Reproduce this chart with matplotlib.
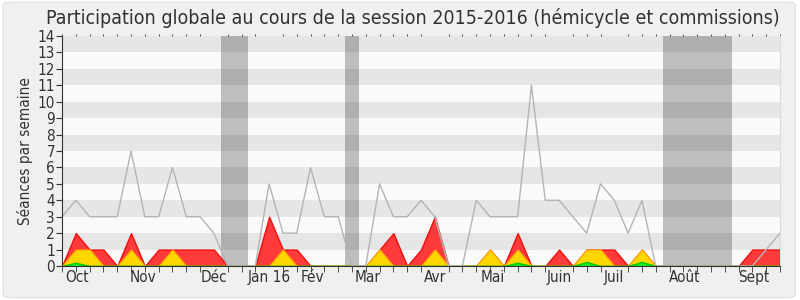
import matplotlib
matplotlib.use('Agg')
import matplotlib.pyplot as plt
import numpy as np
from matplotlib.patches import FancyBboxPatch

# Condensed face, like the reference
plt.rcParams['font.family'] = ['DejaVu Sans']
plt.rcParams['font.stretch'] = 'condensed'

# Weekly values (week 0 = late September 2015)
total = [3, 4, 3, 3, 3, 7, 3, 3, 6, 3, 3, 2, 0, 0, 0, 5, 2, 2, 6, 3, 3, 0, 0,
         5, 3, 3, 4, 3, 0, 0, 4, 3, 3, 3, 11, 4, 4, 3, 2, 5, 4, 2, 4,
         0, 0, 0, 0, 0, 0, 0, 0, 1, 2]
red = [0, 2, 1, 1, 0, 2, 0, 1, 1, 1, 1, 1, 0, 0, 0, 3, 1, 1, 0, 0, 0, 0, 0,
       1, 2, 0, 1, 3, 0, 0, 0, 1, 0, 2, 0, 0, 1, 0, 1, 1, 1, 0, 1,
       0, 0, 0, 0, 0, 0, 0, 1, 1, 1]
yellow = [0, 1, 1, 0, 0, 1, 0, 0, 1, 0, 0, 0, 0, 0, 0, 0, 1, 0, 0, 0, 0, 0, 0,
          1, 0, 0, 0, 1, 0, 0, 0, 1, 0, 1, 0, 0, 0, 0, 1, 1, 0, 0, 1,
          0, 0, 0, 0, 0, 0, 0, 0, 0, 0]
green = [0, 0.2, 0, 0, 0, 0, 0, 0, 0, 0, 0, 0, 0, 0, 0, 0, 0, 0, 0, 0, 0, 0, 0,
         0, 0, 0, 0, 0, 0, 0, 0, 0, 0, 0.2, 0, 0, 0, 0, 0.25, 0, 0, 0, 0.25,
         0, 0, 0, 0, 0, 0, 0, 0, 0, 0]

# Month labels and their position (in weeks)
month_labels = ['Oct', 'Nov', 'Déc', 'Jan 16', 'Fév', 'Mar', 'Avr', 'Mai',
                'Juin', 'Juil', 'Août', 'Sept']
month_weeks = [1.1, 5.9, 11.0, 15.0, 18.15, 22.15, 27.0, 31.2, 36.0, 40.0, 45.1, 50.1]

# Parliamentary breaks (start week, end week)
vacations = [(11.5, 13.5), (20.5, 21.5), (43.5, 48.5)]

weeks = np.arange(len(total))

fig = plt.figure(figsize=(8, 3), dpi=100, facecolor='white')
# rounded light gray background
bg = FancyBboxPatch((0.004, 0.008), 0.99, 0.985, boxstyle='round,pad=0,rounding_size=0.01',
                    transform=fig.transFigure, facecolor='#f0f0f0', edgecolor='#e2e2e2',
                    linewidth=1, zorder=-10)
fig.patches.append(bg)

ax = fig.add_axes([0.0775, 0.1133, 0.8975, 0.7667])
ax.set_facecolor('#fafafa')

# Alternating horizontal bands
for y0 in range(1, 14, 2):
    ax.axhspan(y0, y0 + 1, color='#e6e6e6', zorder=0, linewidth=0)

# Vacation periods
for start, end in vacations:
    ax.axvspan(start, end, color='black', alpha=0.24, zorder=1, linewidth=0)

# Stacked areas
ax.fill_between(weeks, red, color='#ff3a3a', edgecolor='#ee1111', linewidth=1, zorder=2)
ax.fill_between(weeks, yellow, color='#ffd700', edgecolor='#ffb000', linewidth=1, zorder=3)
ax.fill_between(weeks, green, color='#22ee22', edgecolor='#00cc00', linewidth=1, zorder=4)

# Total line
ax.plot(weeks, total, color='#b4b4b4', linewidth=1, zorder=5)

ax.set_xlim(0, 52)
ax.set_ylim(0, 14)
ax.set_yticks(range(0, 15))
ax.tick_params(axis='y', labelsize=11, length=4, color='#333333', pad=1, labelcolor='#333333')

ax.set_xticks(month_weeks)
ax.set_xticklabels(month_labels)
ax.set_xticks(weeks, minor=True)
ax.tick_params(axis='x', which='major', length=0, labelsize=11, pad=3, labelcolor='#333333')
ax.tick_params(axis='x', which='minor', length=4, color='#333333', top=True, direction='out')
for t in ax.xaxis.get_minor_ticks():
    t.tick2line.set_markersize(1.5)

for s in ax.spines.values():
    s.set_zorder(10)
ax.spines['top'].set_visible(False)
ax.spines['right'].set_color('#dddddd')
ax.spines['left'].set_color('#333333')
ax.spines['bottom'].set_color('#333333')

ax.set_ylabel('Séances par semaine', fontsize=11, color='#333333', labelpad=3)
fig.text(0.516, 0.94, 'Participation globale au cours de la session 2015-2016 (hémicycle et commissions)',
         ha='center', va='center', fontsize=14, color='#333333')

fig.savefig('out.png', dpi=100, facecolor=fig.get_facecolor())
